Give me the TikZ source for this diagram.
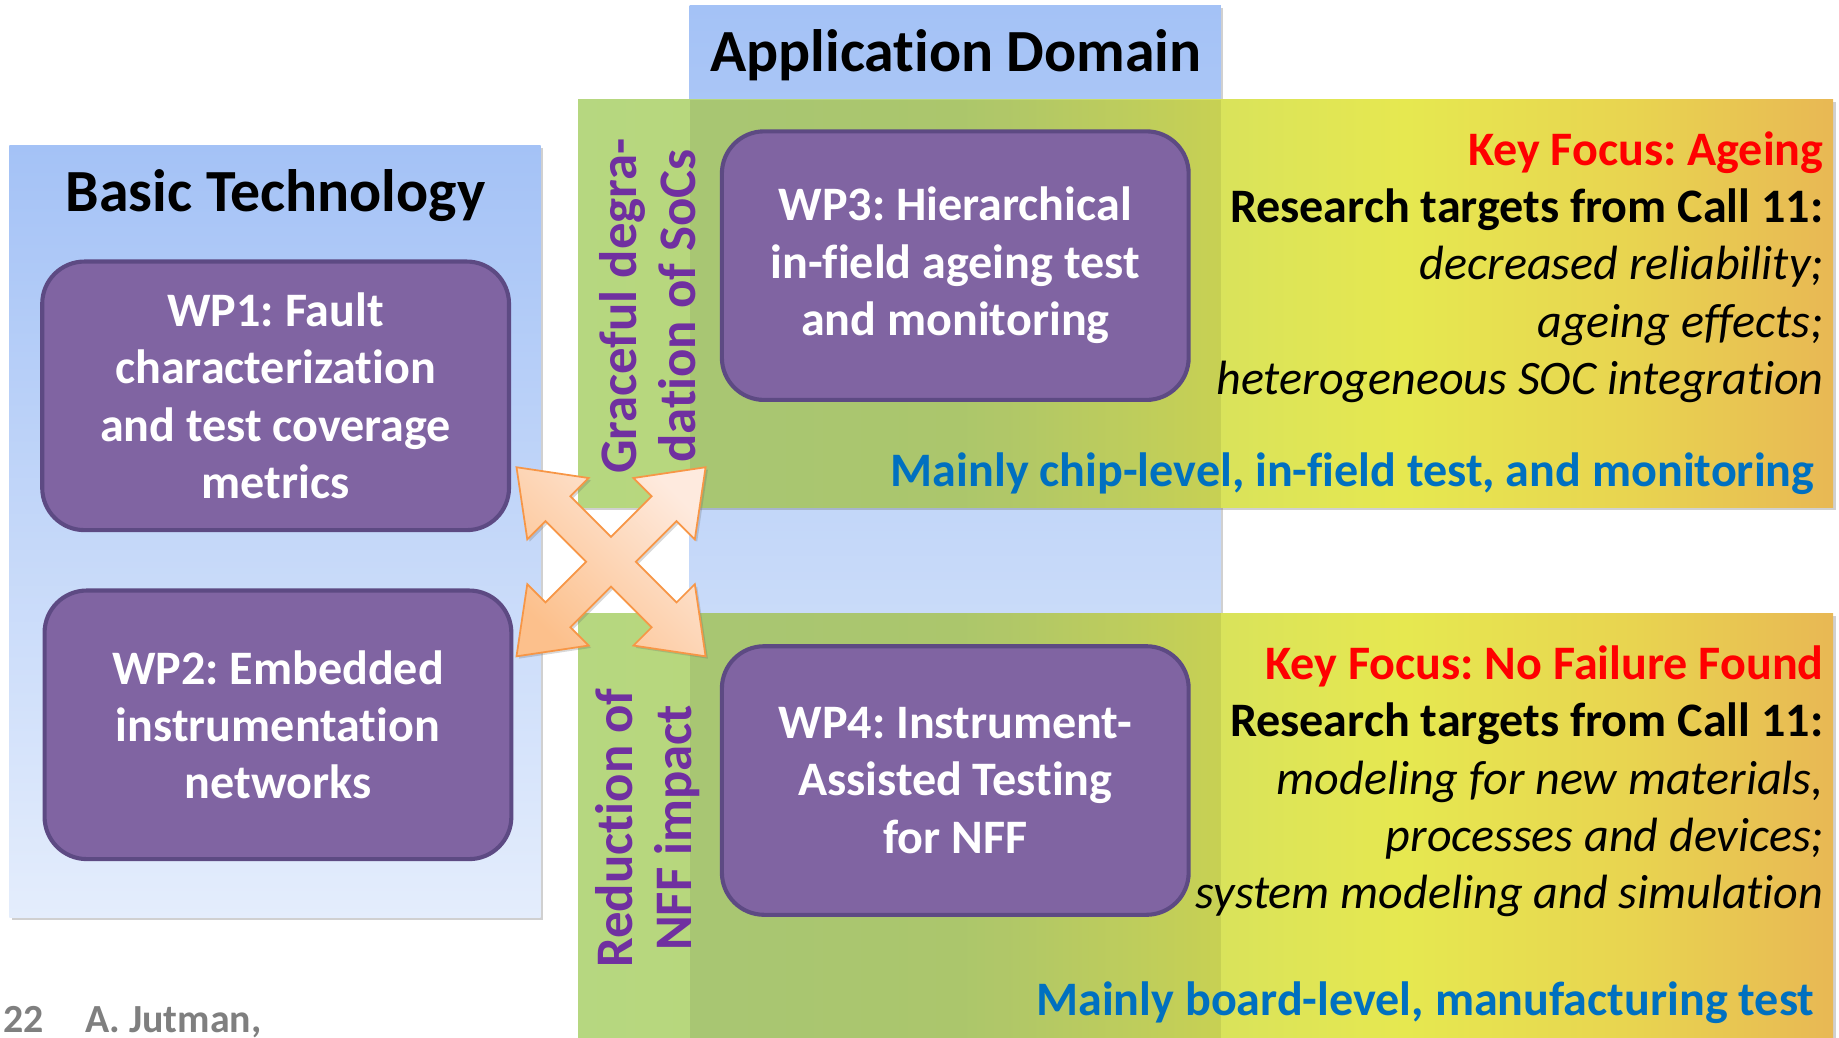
\documentclass[tikz,border=0pt]{standalone}
\usepackage{fontspec}
\setmainfont{Carlito}[Ligatures=NoCommon]
\usetikzlibrary{calc,shadows}
\definecolor{blueTop}{RGB}{164,194,246}
\definecolor{blueBot}{RGB}{228,237,252}
\definecolor{wpFill}{RGB}{128,100,162}
\definecolor{wpDraw}{RGB}{93,74,131}
\definecolor{purp}{RGB}{112,48,160}
\definecolor{keyred}{RGB}{255,0,0}
\definecolor{mblue}{RGB}{0,112,192}
\definecolor{footgray}{RGB}{127,127,127}
\definecolor{arrDark}{RGB}{252,192,140}
\definecolor{arrLight}{RGB}{254,234,222}
\definecolor{arrLine}{RGB}{247,150,70}
\definecolor{bandA}{RGB}{182,215,128}
\definecolor{bandB}{RGB}{186,215,118}
\definecolor{bandC}{RGB}{218,227,90}
\definecolor{bandD}{RGB}{230,232,80}
\definecolor{bandE}{RGB}{232,212,80}
\definecolor{bandF}{RGB}{232,184,84}
\definecolor{overlay}{RGB}{100,150,100}
\pgfdeclarehorizontalshading{bandshade}{100bp}{color(0bp)=(bandA); color(25bp)=(bandA); color(40bp)=(bandB); color(51bp)=(bandC); color(58bp)=(bandD); color(67bp)=(bandE); color(75bp)=(bandF); color(100bp)=(bandF)}
\begin{document}
\frenchspacing
\begin{tikzpicture}[x=1pt,y=-1pt,
  softshadow/.style={drop shadow={shadow xshift=2pt, shadow yshift=-2pt, opacity=0.3, fill=black!60}},
  wpbox/.style={draw=wpDraw, line width=3.5pt, fill=wpFill, rounded corners=36pt,
    minimum width=398pt, minimum height=229pt, text=white, align=center,
    font=\bfseries\fontsize{41}{49}\selectfont, inner sep=0pt},
  titletext/.style={anchor=base, inner sep=0pt, font=\bfseries\fontsize{51}{60}\selectfont},
  rtext/.style={anchor=base east, inner sep=0pt, font=\fontsize{41}{49}\selectfont},
  vtext/.style={rotate=90, align=center, inner sep=0pt, text=purp, font=\bfseries\fontsize{45}{50}\selectfont},
  arrowshape/.style={draw=arrLine, line width=1.5pt, left color=arrDark, right color=arrLight, shading angle=135,
    drop shadow={shadow xshift=2pt, shadow yshift=-2pt, opacity=0.25, fill=black!60}}
]
\useasboundingbox (0,0) rectangle (1568,885);
\fill[white] (0,0) rectangle (1568,885);

% Basic technology panel
\shade[top color=blueTop, bottom color=blueBot, softshadow] (8,124) rectangle (461,782);
\node[titletext] (bt) at (235,180) {Basic Technology};

% Application domain column
\shade[top color=blueTop, bottom color=blueBot, softshadow] (588,5) rectangle (1041,900);
\node[titletext] (ad) at (815,61) {Application Domain};

% Bands
\shade[shading=bandshade, softshadow] (493,85) rectangle (1563,433);
\shade[shading=bandshade, softshadow] (493,523) rectangle (1563,900);
\fill[overlay, opacity=0.08] (588,85) rectangle (1041,433);
\fill[overlay, opacity=0.08] (588,523) rectangle (1041,900);

% WP boxes
\node[wpbox] (wp1) at (235,337.5) {WP1: Fault\\characterization\\and test coverage\\metrics};
\node[wpbox] (wp2) at (237,618) {WP2: Embedded\\instrumentation\\networks};
\node[wpbox] (wp3) at (814.5,226.5) {WP3: Hierarchical\\in-field ageing test\\and monitoring};
\node[wpbox] (wp4) at (814.5,665.5) {WP4: Instrument-\\Assisted Testing\\for NFF};

% vertical labels
\node[vtext] (gd) at (552,261) {Graceful degra-\\dation of SoCs};
\node[vtext] (rn) at (552,706) {Reduction of\\NFF impact};

% right texts, top
\node[rtext, text=keyred, font=\bfseries\fontsize{41}{49}\selectfont] (k1) at (1555,141) {Key Focus: Ageing};
\node[rtext, font=\bfseries\fontsize{41}{49}\selectfont] (r1) at (1555,190) {Research targets from Call 11:};
\node[rtext, font=\itshape\fontsize{41}{49}\selectfont] (t1a) at (1555,238) {decreased reliability;};
\node[rtext, font=\itshape\fontsize{41}{49}\selectfont] (t1b) at (1555,288) {ageing effects;};
\node[rtext, font=\itshape\fontsize{41}{49}\selectfont] (t1c) at (1555,336) {heterogeneous SOC integration};
\node[rtext, text=mblue, font=\bfseries\fontsize{41}{49}\selectfont] (m1) at (1547,415) {Mainly chip-level, in-field test, and monitoring};

% right texts, bottom
\node[rtext, text=keyred, font=\bfseries\fontsize{41}{49}\selectfont] (k2) at (1555,579) {Key Focus: No Failure Found};
\node[rtext, font=\bfseries\fontsize{41}{49}\selectfont] (r2) at (1555,628) {Research targets from Call 11:};
\node[rtext, font=\itshape\fontsize{41}{49}\selectfont] (t2a) at (1555,677) {modeling for new materials,};
\node[rtext, font=\itshape\fontsize{41}{49}\selectfont] (t2b) at (1555,726) {processes and devices;};
\node[rtext, font=\itshape\fontsize{41}{49}\selectfont] (t2c) at (1555,775) {system modeling and simulation};
\node[rtext, text=mblue, font=\bfseries\fontsize{41}{49}\selectfont] (m2) at (1547,866) {Mainly board-level, manufacturing test};

% footer
\node[anchor=base west, inner sep=0pt, text=footgray, font=\bfseries\fontsize{34}{40}\selectfont] (foot) at (3,880) {22\hspace{35pt}A. Jutman,};

% four-way arrow
\coordinate (c) at (521,479);
\path[arrowshape] ($(c)+(45:15)+(135:-15)$)
  \foreach \t in {45,135,225,315} {
    -- ($(c)+(\t:64)+(\t+90:-15)$)
    -- ($(c)+(\t:64)+(\t+90:-37)$)
    -- ($(c)+(\t:114)$)
    -- ($(c)+(\t:64)+(\t+90:37)$)
    -- ($(c)+(\t:64)+(\t+90:15)$)
    -- ($(c)+(\t:15)+(\t+90:15)$)
  } -- cycle;
\end{tikzpicture}
\end{document}
